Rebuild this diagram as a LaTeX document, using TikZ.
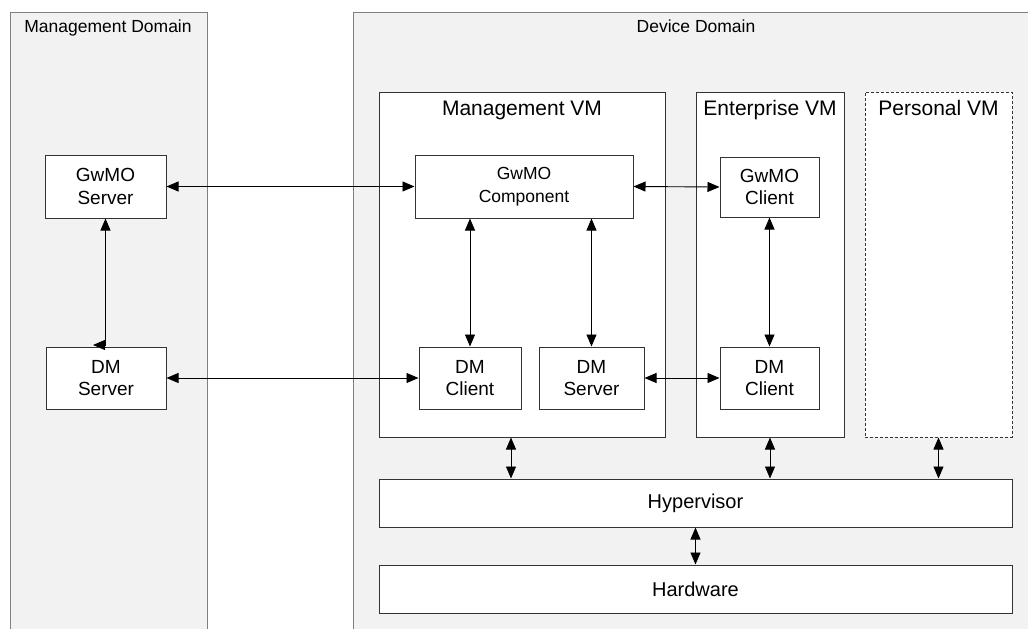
\documentclass[tikz,border=0pt]{standalone}
\usepackage{fontspec}
\setmainfont{Liberation Sans}
\usetikzlibrary{arrows.meta,calc}
\definecolor{domfill}{HTML}{F2F2F2}
\definecolor{domline}{HTML}{7F7F7F}
\definecolor{boxline}{HTML}{333333}
\begin{document}
\begin{tikzpicture}[x=1pt,y=-1pt,
  domainbox/.style={draw=domline, fill=domfill, line width=1pt, inner sep=0pt, anchor=north west},
  domtitle/.style={anchor=base, inner sep=0pt, font=\fontsize{17.5}{21}\selectfont},
  vmbox/.style={draw=boxline, fill=white, line width=1pt, inner sep=0pt},
  vmtitle/.style={anchor=base, inner sep=0pt, font=\fontsize{21}{25}\selectfont},
  compbox/.style={draw=boxline, fill=white, line width=1pt, inner sep=0pt, align=center, font=\fontsize{19}{22.6}\selectfont},
  link/.style={draw=black, line width=0.9pt, {Triangle[length=12pt,width=10pt]}-{Triangle[length=12pt,width=10pt]}}
]
\path[use as bounding box] (0,0) rectangle (1028,629);
\clip (0,0) rectangle (1028,629);

% domains
\node[domainbox, minimum width=197pt, minimum height=660pt] (mdom) at (10,12) {};
\node[domainbox, minimum width=700pt, minimum height=660pt] (ddom) at (353,12) {};
\node[domtitle] (mdomt) at (108,32.3) {Management Domain};
\node[domtitle] (ddomt) at (696,32.3) {Device Domain};

% VMs
\node[vmbox, minimum width=286pt, minimum height=345pt] (mvm) at (522,264.5) {};
\node[vmbox, minimum width=148pt, minimum height=345pt] (evm) at (770,264.5) {};
\node[vmbox, dash pattern=on 3pt off 2pt, minimum width=147pt, minimum height=345pt] (pvm) at (938.5,264.5) {};
\node[vmtitle] (mvmt) at (522,115) {Management VM};
\node[vmtitle] (evmt) at (770,115) {Enterprise VM};
\node[vmtitle] (pvmt) at (938.5,115) {Personal VM};

% components
\node[compbox, minimum width=121pt, minimum height=63pt] (gs) at (105.5,186.5) {GwMO\\Server};
\node[compbox, minimum width=120pt, minimum height=62pt] (ds) at (106,378) {DM\\Server};
\node[compbox, minimum width=218pt, minimum height=63pt, font=\fontsize{17.5}{22.6}\selectfont] (gc) at (524,186.5) {GwMO\\Component};
\node[compbox, minimum width=99pt, minimum height=60pt] (gcl) at (769.5,187) {GwMO\\Client};
\node[compbox, minimum width=102pt, minimum height=62pt] (dc) at (470,378) {DM\\Client};
\node[compbox, minimum width=105pt, minimum height=62pt] (dsm) at (591.5,378) {DM\\Server};
\node[compbox, minimum width=99pt, minimum height=62pt] (dce) at (769.5,378) {DM\\Client};
\node[compbox, minimum width=633pt, minimum height=48pt, font=\fontsize{20}{24}\selectfont] (hv) at (695.5,503) {Hypervisor};
\node[compbox, minimum width=633pt, minimum height=48pt, font=\fontsize{20}{24}\selectfont] (hw) at (695.5,589) {Hardware};

% connectors
\draw[link] (gs.east) -- (gc.west);
\draw[link] (gc.east) -- (gcl.west);
\draw[link] (ds.east) -- (dc.west);
\draw[link] (dsm.east) -- (dce.west);
\draw[link] (gc.south -| dc.north) -- (dc.north);
\draw[link] (gc.south -| dsm.north) -- (dsm.north);
\draw[link] (gcl.south) -- (dce.north);
\coordinate (jog) at (93,345);
\draw[link] (gs.south) |- (jog);
\coordinate (mvmx) at (511,0);
\draw[link] (mvm.south -| mvmx) -- (hv.north -| mvmx);
\draw[link] (evm.south) -- (hv.north -| evm.south);
\draw[link] (pvm.south) -- (hv.north -| pvm.south);
\draw[link] (hv.south) -- (hw.north);
\end{tikzpicture}
\end{document}
